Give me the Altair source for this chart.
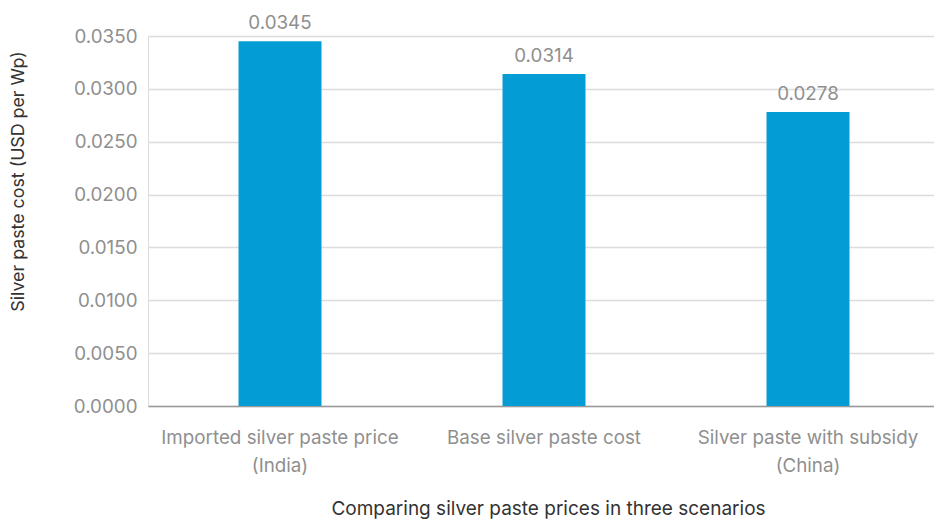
import altair as alt
import pandas as pd

# Scenario labels ("|" marks a line break in the axis label) and silver paste cost
scenarios = [
    "Imported silver paste price|(India)",
    "Base silver paste cost",
    "Silver paste with subsidy|(China)",
]
costs = [0.0345, 0.0314, 0.0278]
y_ticks = [0.0, 0.005, 0.010, 0.015, 0.020, 0.025, 0.030, 0.035]

df = pd.DataFrame({"scenario": scenarios, "cost": costs})

FONT = "Inter"
GRAY = "#8f8f8f"
BLUE = "#049CD5"
LABEL_SIZE = 18.8

x_enc = alt.X(
    "scenario:N",
    sort=scenarios,
    scale=alt.Scale(paddingInner=0, paddingOuter=0, range=[0, 792]),
    axis=alt.Axis(
        title="Comparing silver paste prices in three scenarios",
        labelAngle=0,
        labelExpr="split(datum.label, '|')",
        labelFontSize=LABEL_SIZE,
        labelColor=GRAY,
        labelFont=FONT,
        labelLineHeight=28,
        labelPadding=22,
        labelLimit=400,
        ticks=False,
        domainColor="#9a9a9a",
        domainWidth=1.6,
        titleFont=FONT,
        titleFontSize=19,
        titleFontWeight="normal",
        titleColor="#333333",
        titleX=400,
        titleY=102,
        titleAnchor="middle",
        titleAlign="center",
        titleBaseline="middle",
    ),
)

y_enc = alt.Y(
    "cost:Q",
    scale=alt.Scale(domain=[0, 0.035], nice=False),
    axis=alt.Axis(
        title="Silver paste cost (USD per Wp)",
        values=y_ticks,
        format=".4f",
        labelFontSize=LABEL_SIZE,
        labelColor=GRAY,
        labelFont=FONT,
        labelPadding=11,
        ticks=False,
        domain=False,
        gridColor="#dcdcdc",
        gridWidth=1.3,
        titleFont=FONT,
        titleFontSize=17.8,
        titleFontWeight="normal",
        titleColor="#333333",
        titleX=-130,
        titleY=145,
        titleAlign="center",
        titleBaseline="middle",
        titleAngle=270,
    ),
)

bars = alt.Chart(df).mark_bar(color=BLUE, size=83).encode(x=x_enc, y=y_enc)

labels = alt.Chart(df).mark_text(
    dy=-12, baseline="alphabetic", fontSize=LABEL_SIZE, color=GRAY, font=FONT
).encode(
    x=alt.X("scenario:N", sort=scenarios),
    y="cost:Q",
    text=alt.Text("cost:Q", format=".4f"),
)

chart = (
    alt.layer(bars, labels)
    .properties(
        width=786,
        height=370,
        autosize=alt.AutoSizeParams(type="none"),
        padding={"left": 148, "top": 36, "right": 0, "bottom": 113},
    )
    .configure_view(stroke=None)
    .configure(background="white")
)

chart.save("out.html", embed_options={"renderer": "svg", "actions": False})
